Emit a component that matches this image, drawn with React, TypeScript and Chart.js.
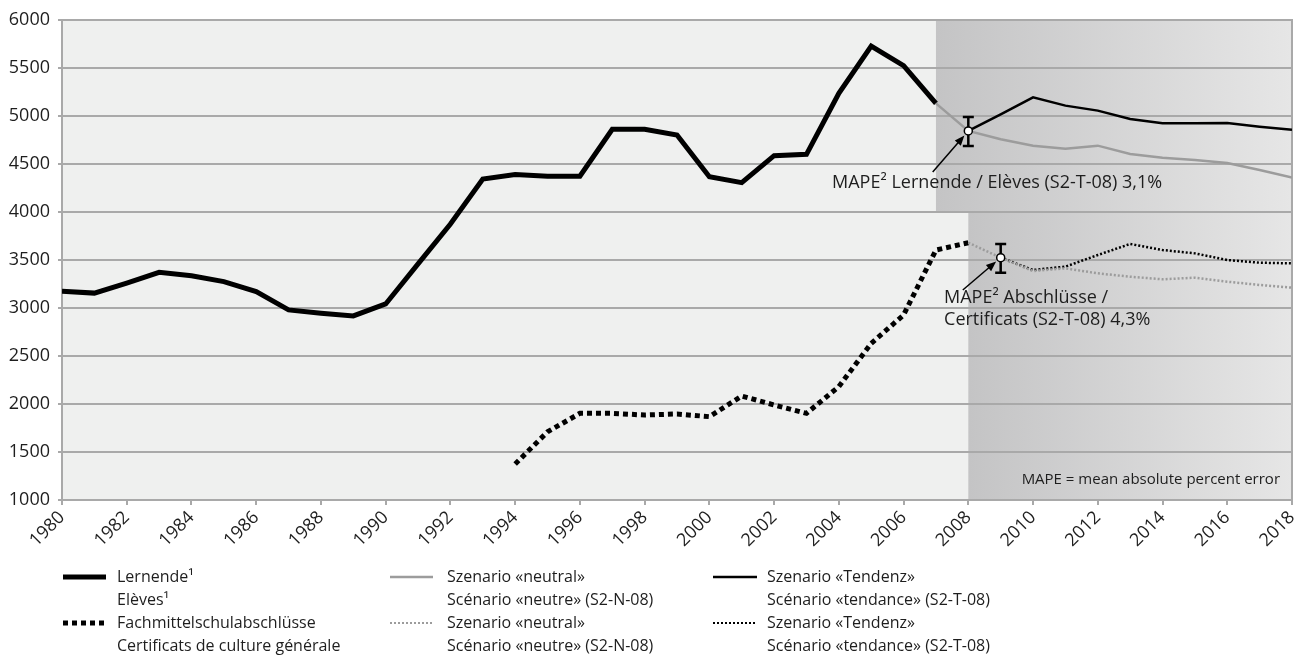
import React, { useEffect, useRef } from 'react';
import { Chart, registerables } from 'chart.js';

Chart.register(...registerables);

// ---------- data ----------
const histYears = [1980, 1981, 1982, 1983, 1984, 1985, 1986, 1987, 1988, 1989, 1990, 1991, 1992, 1993, 1994, 1995, 1996, 1997, 1998, 1999, 2000, 2001, 2002, 2003, 2004, 2005, 2006, 2007];
const lernende = [3175, 3155, 3260, 3372, 3335, 3275, 3170, 2980, 2945, 2917, 3042, 3460, 3875, 4344, 4390, 4372, 4372, 4861, 4861, 4802, 4368, 4306, 4587, 4601, 5236, 5729, 5524, 5132];

const neutralYears = [2007, 2008, 2009, 2010, 2011, 2012, 2013, 2014, 2015, 2016, 2017, 2018];
const lernendeNeutral = [5132, 4844, 4757, 4691, 4660, 4691, 4604, 4566, 4542, 4510, 4437, 4358];

const tendenzYears = [2008, 2009, 2010, 2011, 2012, 2013, 2014, 2015, 2016, 2017, 2018];
const lernendeTendenz = [4844, 5017, 5194, 5108, 5056, 4969, 4924, 4924, 4927, 4889, 4858];

const fmsYears = [1994, 1995, 1996, 1997, 1998, 1999, 2000, 2001, 2002, 2003, 2004, 2005, 2006, 2007, 2008];
const abschluesse = [1375, 1710, 1903, 1903, 1885, 1896, 1868, 2083, 1990, 1903, 2181, 2632, 2927, 3604, 3680];

const fmsNeutralYears = [2008, 2009, 2010, 2011, 2012, 2013, 2014, 2015, 2016, 2017, 2018];
const abschluesseNeutral = [3680, 3524, 3385, 3413, 3361, 3326, 3299, 3316, 3274, 3240, 3212];

const fmsTendenzYears = [2009, 2010, 2011, 2012, 2013, 2014, 2015, 2016, 2017, 2018];
const abschluesseTendenz = [3524, 3396, 3431, 3552, 3667, 3604, 3569, 3500, 3472, 3465];

// MAPE markers and error ranges
const mapeYears = [2008, 2009];
const mapeValues = [4844, 3524];
const mapeLow = [4688, 3368];
const mapeHigh = [4990, 3667];

// forecast shading (start year, value top, value bottom)
const shadeStarts = [2007, 2008];
const shadeTops = [6000, 4000];
const shadeBottoms = [4000, 1000];

// annotations
const arrowTailX = [2006.9, 2007.83];
const arrowTailY = [4417, 3187];
const annotUpper = 'MAPE² Lernende / Elèves (S2-T-08) 3,1%';
const annotUpperPos = [2003.79, 4302];
const annotLower = ['MAPE² Abschlüsse /', 'Certificats (S2-T-08) 4,3%'];
const annotLowerPos = [2007.25, 3104, 2875];
const footnote = 'MAPE = mean absolute percent error';
const footnotePos = [2017.63, 1208];

const yMin = 1000;
const yMax = 6000;
const yStep = 500;
const xMin = 1980;
const xMax = 2018;
const xStep = 2;

const legendCol1 = [['Lernende¹', 'Elèves¹'], ['Fachmittelschulabschlüsse', 'Certificats de culture générale']];
const legendCol2 = [['Szenario «neutral»', 'Scénario «neutre» (S2-N-08)'], ['Szenario «neutral»', 'Scénario «neutre» (S2-N-08)']];
const legendCol3 = [['Szenario «Tendenz»', 'Scénario «tendance» (S2-T-08)'], ['Szenario «Tendenz»', 'Scénario «tendance» (S2-T-08)']];

const FONT = '"Open Sans", "Noto Sans", sans-serif';
const TEXT = '#1e1e1e';
const GRID = '#a9a9a9';
const GRAY_LINE = '#9c9c9c';

const pts = (xs: number[], ys: number[]) => xs.map((x, i) => ({ x, y: ys[i] }));

function drawArrow(ctx: CanvasRenderingContext2D, x1: number, y1: number, x2: number, y2: number) {
  const ang = Math.atan2(y2 - y1, x2 - x1);
  const L = 10, W = 4;
  ctx.beginPath();
  ctx.moveTo(x1, y1);
  ctx.lineTo(x2 - (L - 2) * Math.cos(ang), y2 - (L - 2) * Math.sin(ang));
  ctx.stroke();
  ctx.beginPath();
  ctx.moveTo(x2, y2);
  ctx.lineTo(x2 - L * Math.cos(ang) + W * Math.sin(ang), y2 - L * Math.sin(ang) - W * Math.cos(ang));
  ctx.lineTo(x2 - L * Math.cos(ang) - W * Math.sin(ang), y2 - L * Math.sin(ang) + W * Math.cos(ang));
  ctx.closePath();
  ctx.fill();
}

const bgPlugin = {
  id: 'bgShade',
  beforeDraw(chart: any) {
    const { ctx, chartArea: a, scales } = chart;
    const x = scales.x, y = scales.y;
    ctx.save();
    ctx.fillStyle = '#eff0ef';
    ctx.fillRect(a.left, a.top, a.right - a.left, a.bottom - a.top);
    shadeStarts.forEach((s, i) => {
      const x0 = x.getPixelForValue(s);
      const t = y.getPixelForValue(shadeTops[i]);
      const b = y.getPixelForValue(shadeBottoms[i]);
      const g = ctx.createLinearGradient(x0, 0, a.right, 0);
      g.addColorStop(0, '#c4c4c5');
      g.addColorStop(1, '#e6e6e6');
      ctx.fillStyle = g;
      ctx.fillRect(x0, t, a.right - x0, b - t);
    });
    ctx.restore();
  },
  beforeDatasetsDraw(chart: any) {
    const { ctx, chartArea: a } = chart;
    ctx.save();
    ctx.strokeStyle = GRID;
    ctx.lineWidth = 2;
    ctx.beginPath();
    ctx.moveTo(a.right, a.top - 1);
    ctx.lineTo(a.right, a.bottom + 1);
    ctx.stroke();
    ctx.restore();
  },
  beforeDatasetDraw(chart: any, args: any) {
    if (args.index !== 6) return;
    const { ctx, scales } = chart;
    const x = scales.x, y = scales.y;
    ctx.save();
    ctx.strokeStyle = '#000';
    ctx.lineWidth = 2.5;
    mapeYears.forEach((yr, i) => {
      const px = x.getPixelForValue(yr);
      const t = y.getPixelForValue(mapeHigh[i]);
      const b = y.getPixelForValue(mapeLow[i]);
      ctx.beginPath();
      ctx.moveTo(px, t); ctx.lineTo(px, b);
      ctx.moveTo(px - 5.5, t); ctx.lineTo(px + 5.5, t);
      ctx.moveTo(px - 5.5, b); ctx.lineTo(px + 5.5, b);
      ctx.stroke();
    });
    ctx.restore();
  },
  afterDatasetsDraw(chart: any) {
    const { ctx, scales } = chart;
    const x = scales.x, y = scales.y;
    ctx.save();
    // arrows
    ctx.strokeStyle = '#000';
    ctx.fillStyle = '#000';
    ctx.lineWidth = 1.5;
    mapeYears.forEach((yr, i) => {
      const hx = x.getPixelForValue(yr), hy = y.getPixelForValue(mapeValues[i]);
      const tx = x.getPixelForValue(arrowTailX[i]), ty = y.getPixelForValue(arrowTailY[i]);
      const d = Math.hypot(hx - tx, hy - ty);
      const off = 6;
      drawArrow(ctx, tx, ty, hx - (hx - tx) / d * off, hy - (hy - ty) / d * off);
    });
    // texts
    ctx.fillStyle = TEXT;
    ctx.textBaseline = 'middle';
    ctx.textAlign = 'left';
    ctx.font = `18px ${FONT}`;
    ctx.fillText(annotUpper, x.getPixelForValue(annotUpperPos[0]), y.getPixelForValue(annotUpperPos[1]));
    ctx.fillText(annotLower[0], x.getPixelForValue(annotLowerPos[0]), y.getPixelForValue(annotLowerPos[1]));
    ctx.fillText(annotLower[1], x.getPixelForValue(annotLowerPos[0]), y.getPixelForValue(annotLowerPos[2]));
    ctx.font = `15px ${FONT}`;
    ctx.textAlign = 'right';
    ctx.fillText(footnote, x.getPixelForValue(footnotePos[0]), y.getPixelForValue(footnotePos[1]));
    ctx.restore();
  },
  afterDraw(chart: any) {
    const { ctx } = chart;
    ctx.save();
    const rows = [577, 600, 623, 646];
    const cols = [
      { x0: 63, x1: 106, tx: 117, items: legendCol1, styles: [{ c: '#000', w: 5, d: [] as number[] }, { c: '#000', w: 5, d: [5, 4] }] },
      { x0: 390, x1: 433, tx: 447, items: legendCol2, styles: [{ c: GRAY_LINE, w: 2.5, d: [] as number[] }, { c: GRAY_LINE, w: 2, d: [2, 2] }] },
      { x0: 713, x1: 757, tx: 767, items: legendCol3, styles: [{ c: '#000', w: 2.5, d: [] as number[] }, { c: '#000', w: 2, d: [2, 2] }] },
    ];
    ctx.font = `16px ${FONT}`;
    ctx.textBaseline = 'middle';
    ctx.textAlign = 'left';
    cols.forEach((col) => {
      col.items.forEach((lines, k) => {
        const st = col.styles[k];
        const yy = rows[k * 2];
        ctx.strokeStyle = st.c;
        ctx.lineWidth = st.w;
        ctx.setLineDash(st.d);
        ctx.beginPath();
        ctx.moveTo(col.x0, yy);
        ctx.lineTo(col.x1, yy);
        ctx.stroke();
        ctx.setLineDash([]);
        ctx.fillStyle = TEXT;
        ctx.fillText(lines[0], col.tx, rows[k * 2]);
        ctx.fillText(lines[1], col.tx, rows[k * 2 + 1]);
      });
    });
    ctx.restore();
  },
};

export default function App() {
  const ref = useRef<HTMLCanvasElement | null>(null);
  useEffect(() => {
    if (!ref.current) return;
    const chart = new Chart(ref.current, {
      type: 'line',
      data: {
        datasets: [
          { label: 'Lernende', data: pts(histYears, lernende), borderColor: '#000', borderWidth: 5, pointRadius: 0, order: 5, tension: 0 },
          { label: 'Neutral', data: pts(neutralYears, lernendeNeutral), borderColor: GRAY_LINE, borderWidth: 2.5, pointRadius: 0, order: 4, tension: 0 },
          { label: 'Tendenz', data: pts(tendenzYears, lernendeTendenz), borderColor: '#000', borderWidth: 2.5, pointRadius: 0, order: 3, tension: 0 },
          { label: 'FMS', data: pts(fmsYears, abschluesse), borderColor: '#000', borderWidth: 5, borderDash: [5, 4], pointRadius: 0, order: 5, tension: 0 },
          { label: 'FMS Tendenz', data: pts(fmsTendenzYears, abschluesseTendenz), borderColor: '#000', borderWidth: 2.5, borderDash: [2, 2], pointRadius: 0, order: 4, tension: 0 },
          { label: 'FMS Neutral', data: pts(fmsNeutralYears, abschluesseNeutral), borderColor: GRAY_LINE, borderWidth: 2.5, borderDash: [2, 2], pointRadius: 0, order: 2, tension: 0 },
          { label: 'MAPE', data: pts(mapeYears, mapeValues), showLine: false, pointRadius: 4, pointBackgroundColor: '#fff', pointBorderColor: '#000', pointBorderWidth: 1.5, order: 0 },
        ],
      },
      options: {
        responsive: false,
        animation: false,
        devicePixelRatio: 1,
        layout: { padding: { top: 20, right: 19, left: 0, bottom: 0 } },
        plugins: { legend: { display: false }, tooltip: { enabled: false } },
        scales: {
          x: {
            type: 'linear',
            min: xMin,
            max: xMax,
            ticks: {
              stepSize: xStep,
              autoSkip: false,
              minRotation: 45,
              maxRotation: 45,
              padding: 2,
              color: TEXT,
              font: { family: FONT, size: 18 },
              callback: (v: any) => String(v),
            },
            grid: { drawOnChartArea: false, drawTicks: true, tickLength: 5, color: GRID, lineWidth: 2 },
            border: { display: true, color: GRID, width: 2 },
            afterFit: (s: any) => { s.height = 157; s.paddingLeft = 0; s.paddingRight = 0; },
          },
          y: {
            min: yMin,
            max: yMax,
            ticks: { stepSize: yStep, padding: 8, color: TEXT, font: { family: FONT, size: 18 }, callback: (v: any) => String(v) },
            grid: { color: GRID, lineWidth: 2, tickLength: 4 },
            border: { display: true, color: GRID, width: 2 },
            afterFit: (s: any) => { s.width = 62; s.paddingTop = 0; s.paddingBottom = 0; },
          },
        },
      },
      plugins: [bgPlugin],
    } as any);
    return () => chart.destroy();
  }, []);
  return (
    <div style={{ position: 'fixed', left: 0, top: 0, width: 1311, height: 657 }}>
      <canvas ref={ref} width={1311} height={657} style={{ display: 'block' }} />
    </div>
  );
}
